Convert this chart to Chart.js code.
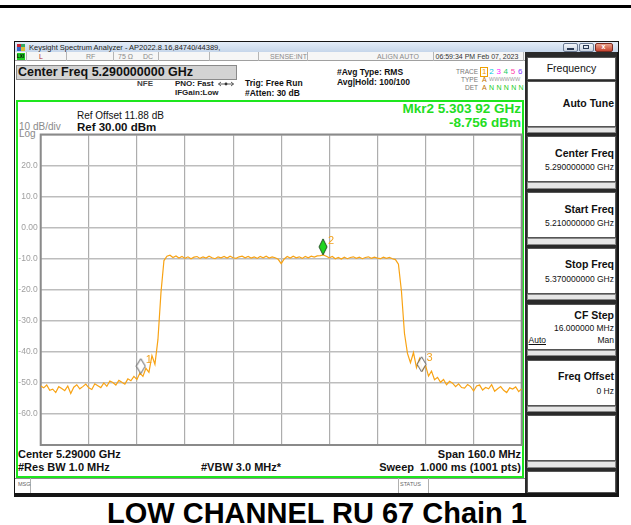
<!DOCTYPE html>
<html><head><meta charset="utf-8">
<script src="https://cdn.jsdelivr.net/npm/chart.js@4"></script>
<style>
html,body{margin:0;padding:0;width:631px;height:525px;overflow:hidden;background:#fff;font-family:"Liberation Sans",Arial,sans-serif;}
#stage{position:relative;width:631px;height:525px;}
.b{position:absolute;box-sizing:border-box;}
.t{position:absolute;white-space:nowrap;}
#c{position:absolute;left:0;top:0;z-index:5;pointer-events:none;}
</style></head><body><div id="stage"></div>
<script>
// ---------------- DATA ----------------
const startFreqMHz = 5210;
const stopFreqMHz = 5370;
const divFreqMHz = 16;
const pointStepMHz = 1;
// trace level (dBm), one value per MHz from 5210 to 5370 MHz
const traceLevels = [
 -51.0,-51.6,-50.7,-52.4,-52.0,-53.1,-51.2,-51.8,-52.5,-51.0,-53.4,
 -51.4,-50.6,-51.9,-51.2,-50.4,-51.6,-52.1,-50.3,-50.9,-51.5,
 -50.0,-51.1,-49.4,-49.9,-50.7,-49.2,-49.8,-50.4,-48.7,-49.3,
 -47.9,-48.9,-46.8,-47.9,-45.3,-46.6,-41.2,-44.0,-36.0,-21.0,
 -10.6,-9.2,-8.9,-9.6,-9.1,-9.8,-9.3,-9.9,-9.4,-10.0,
 -9.5,-9.3,-9.9,-9.4,-9.8,-9.2,-9.7,-10.0,-9.4,-9.7,
 -9.3,-9.8,-9.2,-9.7,-9.9,-9.4,-9.2,-9.7,-9.3,-9.8,
 -9.4,-9.9,-9.3,-9.7,-9.2,-9.8,-9.4,-9.7,-10.2,-11.6,
 -10.1,-9.3,-9.8,-9.2,-9.7,-9.4,-9.9,-9.3,-9.7,-9.2,
 -9.5,-9.1,-9.0,-8.8,-9.2,-9.7,-9.3,-10.0,-9.6,-10.1,
 -9.5,-10.0,-9.6,-9.4,-9.9,-9.5,-10.0,-9.6,-9.4,-9.9,
 -9.5,-9.8,-10.0,-9.5,-9.9,-9.6,-10.0,-10.3,-11.8,-20.5,
 -34.0,-40.5,-43.5,-40.2,-45.1,-42.2,-46.0,-44.3,-47.8,-46.2,
 -49.0,-48.2,-49.8,-48.9,-50.6,-49.5,-50.1,-51.2,-50.3,-51.5,
 -51.7,-50.5,-51.2,-52.6,-51.0,-50.7,-52.3,-51.5,-51.9,-50.6,
 -52.7,-51.9,-51.2,-52.4,-53.1,-51.6,-52.0,-51.3,-52.8,-51.9
];
const markerNames = ['1','2','3'];
const markerFreqsMHz = [5243.3, 5303.92, 5336.7];
const markerLevels = [-47.0, -8.756, -46.4];
const yMin = -70, yMax = 30, yStep = 10;
const yTickValues = [30, 20, 10, 0, -10, -20, -30, -40, -50, -60, -70];
const yTickLabels = ['', '20.0', '10.0', '0.00', '-10.0', '-20.0', '-30.0', '-40.0', '-50.0', '-60.0', ''];

// ---------------- CHROME ----------------
const stage = document.getElementById('stage');
function B(x,y,w,h,style){const d=document.createElement('div');d.className='b';d.style.cssText=`left:${x}px;top:${y}px;width:${w}px;height:${h}px;`+(style||'');stage.appendChild(d);return d;}
function T(text,x,cy,size,opts){opts=opts||{};const d=document.createElement('div');d.className='t';d.textContent=text;
 const lh=Math.round(size*1.2);
 let s=`top:${cy-lh/2}px;font-size:${size}px;line-height:${lh}px;color:${opts.color||'#000'};font-weight:${opts.bold?'bold':'normal'};`;
 if(opts.align==='right') s+=`right:${631-x}px;`; else if(opts.align==='center') s+=`left:${x-100}px;width:200px;text-align:center;`; else s+=`left:${x}px;`;
 if(opts.extra) s+=opts.extra;
 d.style.cssText=s;stage.appendChild(d);return d;}

B(0,5,631,3,'background:#000;');
B(14,41,605,456,'background:#151515;');
B(15,42,603,10,'background:linear-gradient(#e4edf8,#c6d6ea);');
// title icon
B(17,43.5,4,3.5,'background:#c23;');B(21,43.5,4,3.5,'background:#3a6;');B(17,47,4,3.5,'background:#36c;');B(21,47,4,3.5,'background:#db3;');
T('Keysight Spectrum Analyzer - AP2022.8.16,84740/44389,',29,47,7.5,{color:'#222'});
// window buttons
B(563,43,15,8.5,'background:linear-gradient(#f2f5fa,#c9d3e0);border:1px solid #6b7b93;border-radius:2px;');
B(567,48,7,1.5,'background:#2a3a55;');
B(579,43,15,8.5,'background:linear-gradient(#f2f5fa,#c9d3e0);border:1px solid #6b7b93;border-radius:2px;');
B(583,45,6,4,'border:1px solid #2a3a55;');
B(595,43,18,8.5,'background:linear-gradient(#e8a08a,#c7432f);border:1px solid #7a2a20;border-radius:2px;');
T('x',601.5,46.8,7,{color:'#fff',bold:true});
// status row
B(15,52,510,9,'background:#f6f6f6;border-bottom:1px solid #a0a0a0;');
B(16.5,53,8,7,'background:#22cc22;');
T('LXI',17,56.5,4.5,{color:'#000',bold:true});
[26,66,113,158,209,258,307,433,523].forEach(x=>B(x,52,1,9,'background:#b5b5b5;'));
T('L',39,56.5,7,{color:'#b03030'});
T('RF',86,56.5,7,{color:'#8a8a8a'});
T('75 Ω',118,56.5,7,{color:'#8a8a8a'});
T('DC',143,56.5,7,{color:'#8a8a8a'});
T('SENSE:INT',270,56.5,7,{color:'#8a8a8a'});
T('ALIGN AUTO',377,56.5,7,{color:'#8a8a8a'});
T('06:59:34 PM Feb 07, 2023',435.5,56.5,7,{color:'#333'});
// main white area
B(15,61,510,416.5,'background:#fff;');
B(16,65,221,15,'background:#d3d3d3;border:1px solid #8a8a8a;');
T('Center Freq 5.290000000 GHz',18,72.5,12.5,{bold:true,color:'#111'});
T('NFE',137,83.5,8,{bold:true,color:'#444'});
T('PNO: Fast',175,83.5,8,{color:'#222',extra:'font-weight:bold;'});
T('IFGain:Low',175,92.5,8,{color:'#222',extra:'font-weight:bold;'});
(function(){const d=document.createElement('div');d.style.cssText='position:absolute;left:218px;top:80.5px;width:16px;height:6px;line-height:0;';d.innerHTML='<svg width="16" height="6" style="display:block"><path d="M0.5 3H15.5M0.5 3L3 1M0.5 3L3 5M15.5 3L13 1M15.5 3L13 5" stroke="#333" stroke-width="0.8" fill="none"/><circle cx="8" cy="3" r="1.4" fill="#333"/></svg>';stage.appendChild(d);})();
T('Trig: Free Run',245,83,8.5,{bold:true,color:'#111'});
T('#Atten: 30 dB',245,92.5,8.5,{bold:true,color:'#111'});
T('#Avg Type: RMS',337,72,8.5,{bold:true,color:'#111'});
T('Avg|Hold: 100/100',337,81.5,8.5,{bold:true,color:'#111'});
T('TRACE',478,71.5,6.5,{align:'right',color:'#777'});
T('TYPE',478,79.5,6.5,{align:'right',color:'#777'});
T('DET',478,88,6.5,{align:'right',color:'#777'});
B(480,66.5,7.5,10,'border:1px solid #f0a000;');
const trCols=['#f0a000','#00c8e0','#ff22ff','#22cc66','#ff3fa8','#8a3cff'];
trCols.forEach((col,i)=>T(String(i+1),482+i*7.2,71.5,8,{color:col}));
T('A',482,79.5,7,{color:'#c07000'});
T('WWWWWW',489,79.5,5.5,{color:'#999'});
T('A',482,88,7,{color:'#c07000'});
T('N N N N N',489,88,7,{color:'#22cc22',extra:'letter-spacing:0.2px;'});
// green frame
B(15.5,99.5,508,378,'border:2px solid #1ee61e;');
T('Ref Offset 11.88 dB',77,115.5,10,{color:'#111'});
T('Ref 30.00 dBm',77,126.5,11.5,{bold:true,color:'#111'});
T('10 dB/div',19,126.5,10,{color:'#8a8a8a'});
T('Log',19,134,10,{color:'#8a8a8a'});
T('Mkr2 5.303 92 GHz',521,108.5,13.5,{bold:true,color:'#22dd22',align:'right'});
T('-8.756 dBm',521,122.5,13.5,{bold:true,color:'#22dd22',align:'right'});
T('Center 5.29000 GHz',18,454,11,{bold:true,color:'#111'});
T('Span 160.0 MHz',521,454,11,{bold:true,color:'#111',align:'right'});
T('#Res BW 1.0 MHz',18,467,11,{bold:true,color:'#111'});
T('#VBW 3.0 MHz*',201,467,11,{bold:true,color:'#111'});
T('Sweep  1.000 ms (1001 pts)',521,467,11,{bold:true,color:'#111',align:'right',extra:'white-space:pre;'});
// msg row
B(15,478,510,15,'background:#fff;border-top:1px solid #8a8a8a;');
B(30,478,1,15,'background:#b0b0b0;');B(398,478,1,15,'background:#b0b0b0;');B(428,478,1,15,'background:#b0b0b0;');
T('MSG',18,484,5.5,{color:'#666'});
T('STATUS',400,484,5.5,{color:'#666'});
// right panel
B(525,52,92,441,'background:#2a2a2a;');
B(527,56.5,89,23,'background:#fff;border:1px solid #555;');
T('Frequency',571.5,68,10.5,{align:'center',color:'#111'});
const keys=[['Auto Tune'],['Center Freq','5.290000000 GHz'],['Start Freq','5.210000000 GHz'],['Stop Freq','5.370000000 GHz'],['CF Step','16.000000 MHz','Auto|Man'],['Freq Offset','0 Hz'],[],[]];
keys.forEach((k,i)=>{const top=80.5+55.8*i;const h=Math.min(46,493-top);
 B(527,top,89,h,'background:#fff;border:1px solid #555;');
 if(top+46<493) B(527,top+46,89,6.5,'background:#e6e6e6;border:1px solid #888;');
 if(k.length===1) T(k[0],614,top+23,10.5,{bold:true,align:'right',color:'#111'});
 else if(k.length===2){T(k[0],614,top+17,10.5,{bold:true,align:'right',color:'#111'});T(k[1],614,top+31,8.5,{align:'right',color:'#111'});}
 else if(k.length===3){T(k[0],614,top+12,10.5,{bold:true,align:'right',color:'#111'});T(k[1],614,top+24,8.5,{align:'right',color:'#111'});
   const p=k[2].split('|');T(p[0],528.5,top+36,8.5,{color:'#111',extra:'text-decoration:underline;'});T(p[1],614,top+36,8.5,{align:'right',color:'#111'});}
});
// caption
T('LOW CHANNEL RU 67 Chain 1',317,513.5,29,{bold:true,align:'center',color:'#000',extra:'left:17px;width:600px;'});

// ---------------- CHART ----------------
const cv=document.createElement('canvas');cv.id='c';cv.width=631;cv.height=525;stage.appendChild(cv);
function diamond(w,h,fill,stroke){const c=document.createElement('canvas');c.width=w+2;c.height=2*h+2;const g=c.getContext('2d');
 const cx=c.width/2,bot=c.height/2;g.beginPath();g.moveTo(cx,bot-h);g.lineTo(cx+w/2,bot-h/2);g.lineTo(cx,bot);g.lineTo(cx-w/2,bot-h/2);g.closePath();
 if(fill){g.fillStyle=fill;g.fill();}g.strokeStyle=stroke;g.lineWidth=1;g.stroke();return c;}
const mkStyles=[diamond(9,15,'rgba(255,255,255,0.9)','#555'),diamond(8,16,'#1fd51f','#1e4d1e'),diamond(9,15,'rgba(255,255,255,0.9)','#555')];
const traceData=traceLevels.map((v,i)=>({x:startFreqMHz+i*pointStepMHz,y:v}));
const markerData=markerFreqsMHz.map((f,i)=>({x:f,y:markerLevels[i]}));
const FONT='"Liberation Sans", Arial, sans-serif';
const framePlugin={id:'frame',beforeDatasetsDraw(chart){const a=chart.chartArea,g=chart.ctx;g.save();g.strokeStyle='#8a8a8a';g.lineWidth=2;g.strokeRect(a.left,a.top,a.right-a.left,a.bottom-a.top);g.restore();}};
const labelPlugin={id:'mklabels',afterDatasetsDraw(chart){const meta=chart.getDatasetMeta(0);const g=chart.ctx;g.save();g.font='11px '+FONT;g.fillStyle='#f2a21e';g.textBaseline='alphabetic';
 meta.data.forEach((el,i)=>{g.fillText(markerNames[i],el.x+5,el.y-11);});g.restore();}};
new Chart(cv,{
 type:'line',
 data:{datasets:[
  {label:'markers',data:markerData,showLine:false,pointStyle:mkStyles,pointRadius:6,borderWidth:0},
  {label:'trace',data:traceData,borderColor:'#f8a314',borderWidth:1.2,pointRadius:0,tension:0,fill:false}
 ]},
 options:{responsive:false,animation:false,devicePixelRatio:1,
  layout:{padding:{left:0,top:134.5,right:631-521.7,bottom:525-445}},
  plugins:{legend:{display:false},tooltip:{enabled:false}},
  scales:{
   x:{type:'linear',min:startFreqMHz,max:stopFreqMHz,ticks:{stepSize:divFreqMHz,display:false},
      grid:{color:'#adadad',lineWidth:1.2,drawTicks:false},border:{display:false},afterFit:s=>{s.height=0;}},
   y:{type:'linear',min:yMin,max:yMax,ticks:{stepSize:yStep,color:'#a0a0a0',font:{family:FONT,size:8.5},padding:3,
      callback:v=>{const k=yTickValues.indexOf(v);return k>=0?yTickLabels[k]:'';}},
      grid:{color:'#bdbdbd',lineWidth:1.5,drawTicks:false},border:{display:false},afterFit:s=>{s.width=40.7;}}
  }
 },
 plugins:[framePlugin,labelPlugin]
});
</script></body></html>
